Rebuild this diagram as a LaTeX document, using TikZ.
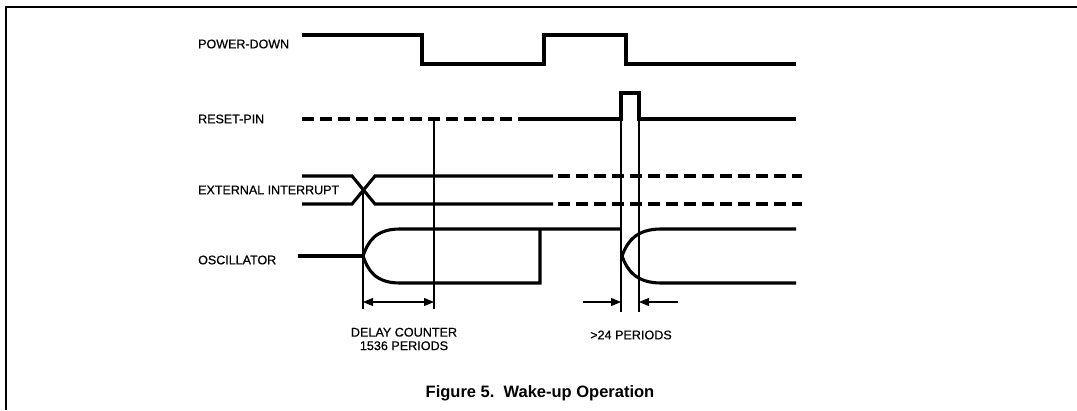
\documentclass[tikz,border=0pt]{standalone}
\usepackage{fontspec}
\setmainfont{Liberation Sans}
\newfontfamily\lblfont{Liberation Sans}[FakeBold=0.6]
\usetikzlibrary{arrows.meta}
\begin{document}
\begin{tikzpicture}[x=1pt,y=-1pt,
  sig/.style={line width=3.1pt,line join=miter},
  dsig/.style={line width=3.1pt,dash pattern=on 12pt off 6pt},
  thin/.style={line width=1.1pt},
  frame/.style={line width=1.3pt},
  lbl/.style={font=\lblfont\fontsize{12.5}{14}\selectfont,anchor=west,inner sep=0pt},
  note/.style={font=\lblfont\fontsize{12.6}{13.5}\selectfont,align=center,inner sep=0pt},
  tip/.style={Triangle[length=10pt,width=8pt]},
  dim/.style={thin,-{Triangle[length=10pt,width=8pt]}}]
\useasboundingbox (0,0) rectangle (1077,410);
% frame
\draw[frame] (1077,7) -- (6,7) -- (6,410);
% labels
\node[lbl] (pd)  at (198,44) {POWER-DOWN};
\node[lbl] (rp)  at (198,119) {RESET-PIN};
\node[lbl] (ei)  at (198,190) {EXTERNAL INTERRUPT};
\node[lbl] (osc) at (198,260) {OSCILLATOR};
% POWER-DOWN
\draw[sig] (302,35) -- (422,35) -- (422,64) -- (544,64) -- (544,35) -- (626,35) -- (626,64) -- (796,64);
% RESET-PIN
\draw[dsig] (302,119) -- (514,119);
\draw[sig] (518,119) -- (621,119) -- (621,93) -- (639,93) -- (639,119) -- (796,119);
% EXTERNAL INTERRUPT
\draw[sig] (302,176) -- (352,176) -- (375,204) -- (553,204);
\draw[sig] (302,204) -- (352,204) -- (375,176) -- (553,176);
\draw[dsig] (558,176) -- (802,176);
\draw[dsig] (558,204) -- (802,204);
% OSCILLATOR
\draw[sig] (298,256) -- (363,256);
\draw[sig] (621,229) -- (400,229) .. controls (375,229) and (368,242) .. (363,256)
  .. controls (368,270) and (375,283) .. (400,283) -- (540,283) -- (540,229);
\draw[sig] (796,229) -- (661,229) .. controls (636,229) and (627,242) .. (622,256)
  .. controls (627,270) and (636,283) .. (661,283) -- (796,283);
% thin timing lines
\draw[thin] (363,190) -- (363,309);
\draw[thin] (434,119) -- (434,309);
\draw[thin] (621,119) -- (621,312);
\draw[thin] (639,119) -- (639,312);
% dimension arrows
\coordinate (a1) at (363,302);
\coordinate (a2) at (434,302);
\draw[thin,{Triangle[length=10pt,width=8pt]}-{Triangle[length=10pt,width=8pt]}] (a1) -- (a2);
\coordinate (b0) at (583,302);
\coordinate (b1) at (621,302);
\coordinate (c0) at (678,302);
\coordinate (c1) at (639,302);
\draw[dim] (b0) -- (b1);
\draw[dim] (c0) -- (c1);
% notes
\node[note] (dc) at (404,339) {DELAY COUNTER\\1536 PERIODS};
\node[note] (p24) at (631,335) {>24 PERIODS};
\node[font=\bfseries\fontsize{16.5}{18}\selectfont,inner sep=0pt] (cap) at (540,393) {Figure 5.\ \ Wake-up Operation};
\end{tikzpicture}
\end{document}
